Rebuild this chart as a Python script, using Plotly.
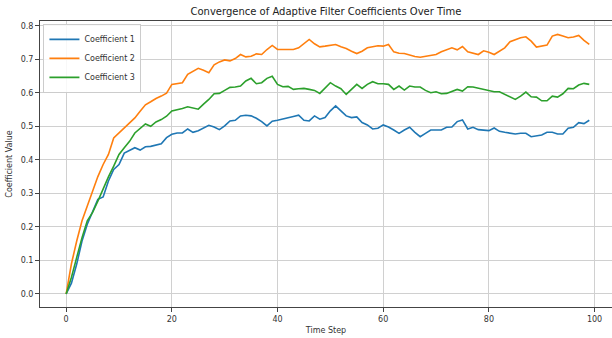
import plotly.graph_objects as go

time_step = list(range(100))

coef1 = [0.0, 0.032, 0.089, 0.158, 0.208, 0.243, 0.282, 0.289, 0.337, 0.371,
         0.386, 0.42, 0.428, 0.436, 0.429, 0.439, 0.44, 0.444, 0.448, 0.466,
         0.476, 0.48, 0.48, 0.492, 0.482, 0.487, 0.495, 0.503, 0.498, 0.49,
         0.501, 0.516, 0.518, 0.531, 0.533, 0.531, 0.524, 0.514, 0.501, 0.515,
         0.518, 0.521, 0.526, 0.529, 0.533, 0.518, 0.516, 0.531, 0.521, 0.526,
         0.546, 0.561, 0.546, 0.531, 0.526, 0.528, 0.511, 0.504, 0.492, 0.494,
         0.504, 0.498, 0.489, 0.479, 0.489, 0.497, 0.482, 0.469, 0.479, 0.489,
         0.489, 0.489, 0.497, 0.498, 0.514, 0.519, 0.492, 0.497, 0.49, 0.488,
         0.487, 0.495, 0.485, 0.482, 0.479, 0.477, 0.479, 0.479, 0.469, 0.472,
         0.474, 0.482, 0.482, 0.477, 0.477, 0.494, 0.497, 0.511, 0.508, 0.518]

coef2 = [0.0, 0.09, 0.158, 0.218, 0.262, 0.307, 0.35, 0.386, 0.416, 0.465,
         0.48, 0.495, 0.51, 0.525, 0.545, 0.564, 0.573, 0.583, 0.59, 0.599,
         0.625, 0.628, 0.63, 0.655, 0.665, 0.673, 0.667, 0.66, 0.683, 0.692,
         0.698, 0.695, 0.702, 0.714, 0.707, 0.709, 0.716, 0.714, 0.729, 0.741,
         0.729, 0.729, 0.729, 0.729, 0.734, 0.746, 0.759, 0.746, 0.737, 0.739,
         0.742, 0.744, 0.737, 0.732, 0.724, 0.717, 0.724, 0.734, 0.737, 0.74,
         0.739, 0.744, 0.722, 0.718, 0.717, 0.712, 0.708, 0.706, 0.708, 0.71,
         0.714, 0.722, 0.727, 0.734, 0.728, 0.738, 0.722, 0.718, 0.714, 0.725,
         0.721, 0.714, 0.724, 0.734, 0.752, 0.759, 0.764, 0.767, 0.754, 0.736,
         0.74, 0.742, 0.769, 0.774, 0.769, 0.764, 0.766, 0.771, 0.756, 0.744]

coef3 = [0.0, 0.05, 0.109, 0.168, 0.218, 0.243, 0.277, 0.315, 0.349, 0.381,
         0.416, 0.436, 0.455, 0.48, 0.493, 0.507, 0.5, 0.513, 0.52, 0.53,
         0.546, 0.549, 0.553, 0.558, 0.555, 0.551, 0.566, 0.58, 0.597, 0.598,
         0.607, 0.616, 0.617, 0.62, 0.635, 0.643, 0.627, 0.63, 0.643, 0.649,
         0.625, 0.618, 0.619, 0.61, 0.612, 0.613, 0.61, 0.607, 0.598, 0.615,
         0.63, 0.62, 0.612, 0.595, 0.61, 0.625, 0.613, 0.625, 0.633, 0.627,
         0.627, 0.625, 0.61, 0.62, 0.608, 0.62, 0.617, 0.617, 0.607, 0.6,
         0.603, 0.597, 0.598, 0.603, 0.61, 0.605, 0.618, 0.617, 0.614, 0.61,
         0.607, 0.603, 0.603, 0.595, 0.587, 0.58, 0.59, 0.602, 0.588, 0.587,
         0.576, 0.576, 0.59, 0.587, 0.597, 0.613, 0.612, 0.623, 0.628, 0.625]

series_names = ["Coefficient 1", "Coefficient 2", "Coefficient 3"]
series_colors = ["#1f77b4", "#ff7f0e", "#2ca02c"]
x_ticks = [0, 20, 40, 60, 80, 100]
y_ticks = [0.0, 0.1, 0.2, 0.3, 0.4, 0.5, 0.6, 0.7, 0.8]

FONT = "DejaVu Sans"

fig = go.Figure()
for name, vals, col in zip(series_names, [coef1, coef2, coef3], series_colors):
    fig.add_trace(go.Scatter(x=time_step, y=vals, mode="lines", name=name,
                             line=dict(color=col, width=1.6)))

axis_common = dict(showgrid=True, gridcolor="#d0d0d0", gridwidth=1,
                   showline=True, linecolor="#444444", linewidth=1, mirror=True,
                   ticks="outside", ticklen=4, tickcolor="#444444",
                   tickfont=dict(family=FONT, size=8, color="#333333"),
                   zeroline=False, automargin=False)

fig.update_layout(
    width=612, height=338,
    margin=dict(l=40, r=0, t=21, b=31),
    paper_bgcolor="white", plot_bgcolor="white",
    font=dict(family=FONT, size=8, color="#333333"),
    title=dict(text="Convergence of Adaptive Filter Coefficients Over Time",
               x=0.5, xref="paper", xanchor="center",
               y=1 - 11 / 338, yref="container", yanchor="middle",
               font=dict(family=FONT, size=10, color="#222222")),
    xaxis=dict(range=[-4.95, 103.3], tickvals=x_ticks,
               title=dict(text="Time Step", standoff=4,
                          font=dict(family=FONT, size=8, color="#333333")),
               **axis_common),
    yaxis=dict(range=[-0.039, 0.814], tickvals=y_ticks, tickformat=".1f",
               title=dict(text="Coefficient Value", standoff=6,
                          font=dict(family=FONT, size=8, color="#333333")),
               **axis_common),
    legend=dict(x=0.006, y=0.99, xanchor="left", yanchor="top",
                bgcolor="rgba(255,255,255,0.85)", bordercolor="#cccccc", borderwidth=1,
                font=dict(family=FONT, size=8, color="#333333"),
                itemwidth=30, tracegroupgap=0),
)

fig.write_html("out.html",
               config={"displayModeBar": False},
               post_script="document.body.style.margin='0';document.body.style.padding='0';")
